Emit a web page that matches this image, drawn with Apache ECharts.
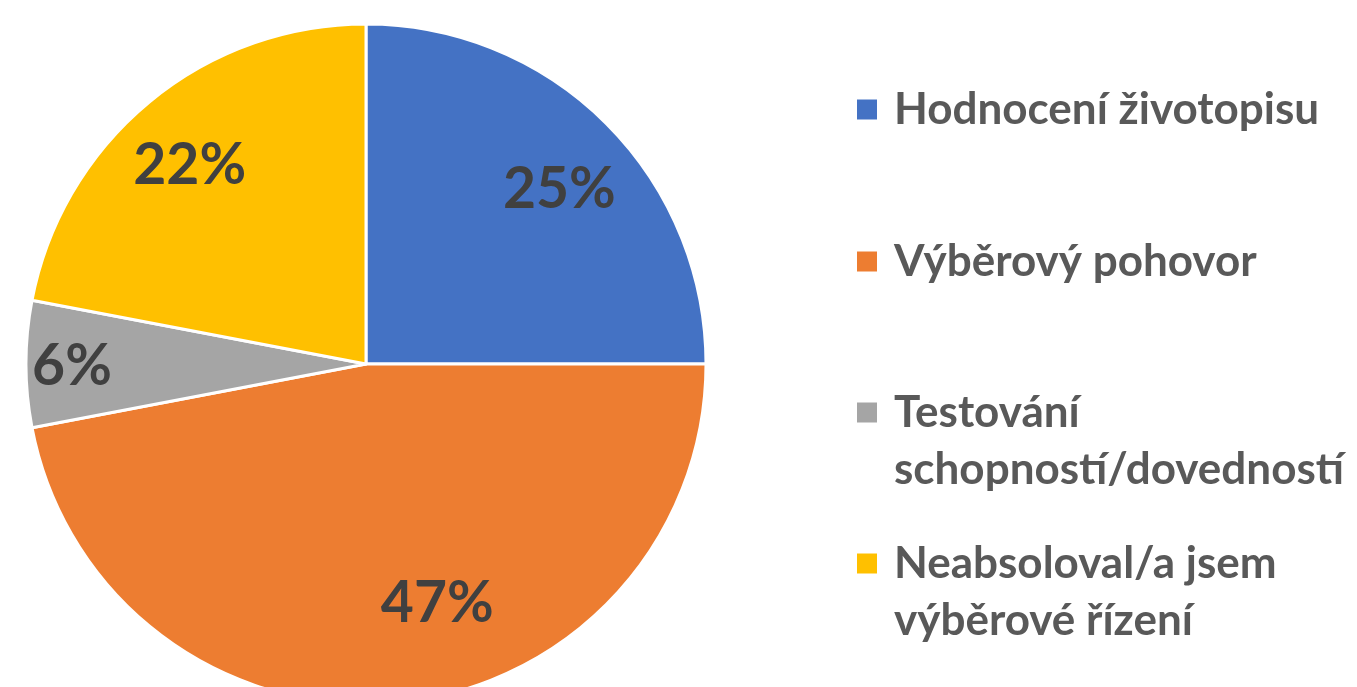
<!DOCTYPE html>
<html>
<head>
<meta charset="utf-8">
<script src="https://cdn.jsdelivr.net/npm/echarts@6/dist/echarts.min.js"></script>
<style>
  html, body { margin: 0; padding: 0; background: #fff; }
  #chart { width: 1357px; height: 687px; }
</style>
</head>
<body>
<div id="chart"></div>
<script>
// data
const categories = ['Hodnocení životopisu', 'Výběrový pohovor', 'Testování schopností/dovedností', 'Neabsoloval/a jsem výběrové řízení']
const legendLabels = ['Hodnocení životopisu', 'Výběrový pohovor', 'Testování\nschopností/dovedností', 'Neabsoloval/a jsem\nvýběrové řízení']
const values = [25, 47, 6, 22]

// styles
const colors = ['#4472C4', '#ED7D31', '#A5A5A5', '#FFC000']
const labelOffsets = [[71, -52], [55, 67], [-121, 3], [-66, -65]]
const legendTops = [81, 233, 327, 478]

const chart = echarts.init(document.getElementById('chart'))

const legends = categories.map((name, i) => ({
  data: [name],
  left: 855,
  top: legendTops[i],
  padding: 0,
  orient: 'vertical',
  icon: 'rect',
  itemWidth: 22,
  itemHeight: 22,
  selectedMode: false,
  // leading blank line keeps the square beside the first line of two-line items
  formatter: () => (legendLabels[i].includes('\n') ? '\n' + legendLabels[i] : legendLabels[i]),
  textStyle: {
    fontFamily: 'Lato',
    fontWeight: 'bold',
    fontSize: 44,
    lineHeight: 57,
    color: '#595959',
    padding: [0, 0, 0, 11]
  }
}))

chart.setOption({
  animation: false,
  color: colors,
  legend: legends,
  series: [
    {
      type: 'pie',
      center: [366, 364],
      radius: 340,
      startAngle: 90,
      clockwise: true,
      silent: true,
      itemStyle: { borderColor: '#fff', borderWidth: 3 },
      label: {
        show: true,
        position: 'inside',
        formatter: '{c}%',
        fontFamily: 'Lato',
        fontWeight: 'bold',
        fontSize: 57,
        color: '#404040'
      },
      labelLine: { show: false },
      data: categories.map((name, i) => ({
        name,
        value: values[i],
        label: { offset: labelOffsets[i] }
      }))
    }
  ]
})
</script>
</body>
</html>
